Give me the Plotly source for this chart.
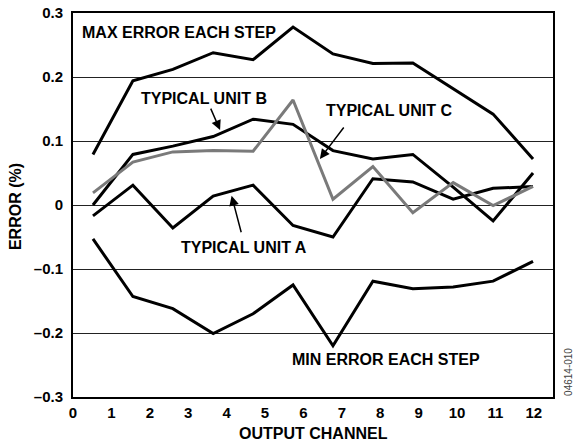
import plotly.graph_objects as go

# channel positions
channel_x = [0.52, 1.56, 2.6, 3.65, 4.69, 5.73, 6.77, 7.81, 8.85, 9.9, 10.94, 11.98]

max_err = [0.079, 0.194, 0.212, 0.238, 0.227, 0.278, 0.236, 0.221, 0.222, 0.182, 0.142, 0.072]
unit_b = [0.0, 0.079, 0.092, 0.107, 0.134, 0.126, 0.085, 0.072, 0.079, 0.028, -0.025, 0.050]
unit_c = [0.019, 0.067, 0.083, 0.085, 0.084, 0.164, 0.009, 0.060, -0.012, 0.035, -0.001, 0.029]
unit_a = [-0.017, 0.031, -0.036, 0.014, 0.031, -0.032, -0.050, 0.041, 0.036, 0.009, 0.026, 0.029]
min_err = [-0.053, -0.143, -0.162, -0.201, -0.170, -0.125, -0.220, -0.119, -0.131, -0.128, -0.119, -0.088]

y_ticks = [-0.3, -0.2, -0.1, 0, 0.1, 0.2, 0.3]
y_tick_text = ["–0.3", "–0.2", "–0.1", "0", "0.1", "0.2", "0.3"]
x_ticks = list(range(13))

FONT = "Liberation Sans, Arial, sans-serif"
BLACK = "#000000"
GRAY = "#7a7a7a"

fig = go.Figure()
for ys, col in [(max_err, BLACK), (unit_b, BLACK), (unit_a, BLACK), (min_err, BLACK), (unit_c, GRAY)]:
    fig.add_trace(go.Scatter(x=channel_x, y=ys, mode="lines",
                             line=dict(color=col, width=3), showlegend=False,
                             hoverinfo="skip"))

labels = [
    ("MAX ERROR EACH STEP", 2.76, 0.270),
    ("TYPICAL UNIT B", 3.41, 0.166),
    ("TYPICAL UNIT C", 8.22, 0.148),
    ("TYPICAL UNIT A", 4.45, -0.067),
    ("MIN ERROR EACH STEP", 8.14, -0.242),
]
for txt, x, y in labels:
    fig.add_annotation(x=x, y=y, text=txt, showarrow=False,
                       font=dict(family=FONT, size=16, color=BLACK, weight="bold"))

# pointer arrows (head x/y, tail ax/ay)
arrows = [
    (3.83, 0.117, 3.57, 0.153),
    (6.43, 0.072, 7.08, 0.1235),
    (4.13, 0.0145, 4.39, -0.045),
]
for x, y, ax, ay in arrows:
    fig.add_annotation(x=x, y=y, ax=ax, ay=ay, axref="x", ayref="y", text="",
                       showarrow=True, arrowhead=2, arrowsize=1.3, arrowwidth=1.5,
                       arrowcolor=BLACK)

fig.add_annotation(x=0.5, y=-0.094, xref="paper", yref="paper", text="OUTPUT CHANNEL",
                   xanchor="center", yanchor="middle", showarrow=False,
                   font=dict(family=FONT, size=16, color=BLACK, weight="bold"))
fig.add_annotation(x=-0.121, y=0.497, xref="paper", yref="paper", text="ERROR (%)",
                   xanchor="center", yanchor="middle", textangle=-90, showarrow=False,
                   font=dict(family=FONT, size=16, color=BLACK, weight="bold"))
fig.add_annotation(x=1.031, y=0.065, xref="paper", yref="paper", text="04614-010",
                   xanchor="center", yanchor="middle", textangle=-90, showarrow=False,
                   font=dict(family=FONT, size=10, color="#444444"))

fig.update_xaxes(range=[0, 12.5], tickvals=x_ticks, showgrid=False, zeroline=False,
                 showline=True, linecolor=BLACK, linewidth=2, mirror=True,
                 ticks="", ticklabelstandoff=1, automargin=False,
                 tickfont=dict(family=FONT, size=15, color=BLACK, weight="bold"))
fig.update_yaxes(range=[-0.3, 0.3], tickvals=y_ticks, ticktext=y_tick_text,
                 showgrid=True, gridcolor="#222222", gridwidth=1, zeroline=False,
                 showline=True, linecolor=BLACK, linewidth=2, mirror=True,
                 ticks="", ticklabelstandoff=5, automargin=False,
                 tickfont=dict(family=FONT, size=15, color=BLACK, weight="bold"))

fig.update_layout(width=574, height=446, autosize=False,
                  margin=dict(l=73, r=21, t=13, b=49),
                  plot_bgcolor="white", paper_bgcolor="white")

# drop the default body margin so the figure fills the window
fig.write_html("out.html", config={"displayModeBar": False},
               post_script="document.body.style.margin='0';")
